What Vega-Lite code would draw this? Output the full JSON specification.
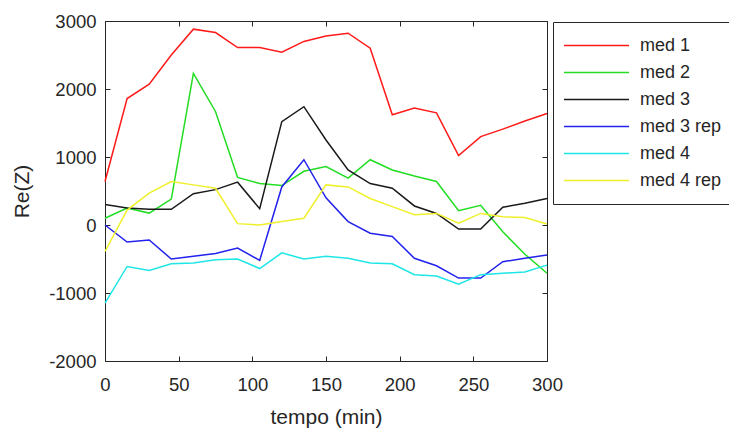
{
  "$schema": "https://vega.github.io/schema/vega-lite/v6.json",
  "width": 442,
  "height": 340,
  "autosize": {"type": "none"},
  "padding": {"left": 105, "top": 21, "right": 182, "bottom": 68},
  "background": "white",
  "config": {
    "font": "Liberation Sans",
    "view": {"stroke": "#262626", "strokeWidth": 1},
    "axis": {"grid": false, "domain": false, "tickColor": "#262626", "tickSize": -5, "labelFontSize": 18.5, "labelColor": "#262626", "titleFontSize": 21, "titleFontWeight": "normal", "titleColor": "#262626", "labelFont": "Liberation Sans", "titleFont": "Liberation Sans"}
  },
  "data": {"values": [
    {"t":0,"s":"med 1","v":640},{"t":15,"s":"med 1","v":1860},{"t":30,"s":"med 1","v":2070},{"t":45,"s":"med 1","v":2500},{"t":60,"s":"med 1","v":2880},{"t":75,"s":"med 1","v":2830},{"t":90,"s":"med 1","v":2610},{"t":105,"s":"med 1","v":2610},{"t":120,"s":"med 1","v":2540},{"t":135,"s":"med 1","v":2700},{"t":150,"s":"med 1","v":2780},{"t":165,"s":"med 1","v":2820},{"t":180,"s":"med 1","v":2600},{"t":195,"s":"med 1","v":1620},{"t":210,"s":"med 1","v":1720},{"t":225,"s":"med 1","v":1650},{"t":240,"s":"med 1","v":1020},{"t":255,"s":"med 1","v":1300},{"t":270,"s":"med 1","v":1410},{"t":285,"s":"med 1","v":1530},{"t":300,"s":"med 1","v":1640},
    {"t":0,"s":"med 2","v":100},{"t":15,"s":"med 2","v":250},{"t":30,"s":"med 2","v":175},{"t":45,"s":"med 2","v":380},{"t":60,"s":"med 2","v":2230},{"t":75,"s":"med 2","v":1670},{"t":90,"s":"med 2","v":700},{"t":105,"s":"med 2","v":610},{"t":120,"s":"med 2","v":580},{"t":135,"s":"med 2","v":790},{"t":150,"s":"med 2","v":860},{"t":165,"s":"med 2","v":690},{"t":180,"s":"med 2","v":960},{"t":195,"s":"med 2","v":810},{"t":210,"s":"med 2","v":720},{"t":225,"s":"med 2","v":640},{"t":240,"s":"med 2","v":210},{"t":255,"s":"med 2","v":290},{"t":270,"s":"med 2","v":-100},{"t":285,"s":"med 2","v":-430},{"t":300,"s":"med 2","v":-710},
    {"t":0,"s":"med 3","v":300},{"t":15,"s":"med 3","v":250},{"t":30,"s":"med 3","v":230},{"t":45,"s":"med 3","v":230},{"t":60,"s":"med 3","v":460},{"t":75,"s":"med 3","v":520},{"t":90,"s":"med 3","v":630},{"t":105,"s":"med 3","v":240},{"t":120,"s":"med 3","v":1520},{"t":135,"s":"med 3","v":1740},{"t":150,"s":"med 3","v":1250},{"t":165,"s":"med 3","v":810},{"t":180,"s":"med 3","v":610},{"t":195,"s":"med 3","v":540},{"t":210,"s":"med 3","v":280},{"t":225,"s":"med 3","v":170},{"t":240,"s":"med 3","v":-60},{"t":255,"s":"med 3","v":-60},{"t":270,"s":"med 3","v":260},{"t":285,"s":"med 3","v":320},{"t":300,"s":"med 3","v":390},
    {"t":0,"s":"med 3 rep","v":0},{"t":15,"s":"med 3 rep","v":-250},{"t":30,"s":"med 3 rep","v":-220},{"t":45,"s":"med 3 rep","v":-500},{"t":60,"s":"med 3 rep","v":-460},{"t":75,"s":"med 3 rep","v":-420},{"t":90,"s":"med 3 rep","v":-340},{"t":105,"s":"med 3 rep","v":-520},{"t":120,"s":"med 3 rep","v":560},{"t":135,"s":"med 3 rep","v":960},{"t":150,"s":"med 3 rep","v":400},{"t":165,"s":"med 3 rep","v":50},{"t":180,"s":"med 3 rep","v":-120},{"t":195,"s":"med 3 rep","v":-170},{"t":210,"s":"med 3 rep","v":-490},{"t":225,"s":"med 3 rep","v":-600},{"t":240,"s":"med 3 rep","v":-780},{"t":255,"s":"med 3 rep","v":-780},{"t":270,"s":"med 3 rep","v":-540},{"t":285,"s":"med 3 rep","v":-490},{"t":300,"s":"med 3 rep","v":-440},
    {"t":0,"s":"med 4","v":-1150},{"t":15,"s":"med 4","v":-610},{"t":30,"s":"med 4","v":-670},{"t":45,"s":"med 4","v":-570},{"t":60,"s":"med 4","v":-560},{"t":75,"s":"med 4","v":-510},{"t":90,"s":"med 4","v":-500},{"t":105,"s":"med 4","v":-640},{"t":120,"s":"med 4","v":-410},{"t":135,"s":"med 4","v":-500},{"t":150,"s":"med 4","v":-460},{"t":165,"s":"med 4","v":-490},{"t":180,"s":"med 4","v":-560},{"t":195,"s":"med 4","v":-570},{"t":210,"s":"med 4","v":-730},{"t":225,"s":"med 4","v":-750},{"t":240,"s":"med 4","v":-870},{"t":255,"s":"med 4","v":-730},{"t":270,"s":"med 4","v":-710},{"t":285,"s":"med 4","v":-690},{"t":300,"s":"med 4","v":-590},
    {"t":0,"s":"med 4 rep","v":-390},{"t":15,"s":"med 4 rep","v":220},{"t":30,"s":"med 4 rep","v":470},{"t":45,"s":"med 4 rep","v":640},{"t":60,"s":"med 4 rep","v":590},{"t":75,"s":"med 4 rep","v":540},{"t":90,"s":"med 4 rep","v":20},{"t":105,"s":"med 4 rep","v":0},{"t":120,"s":"med 4 rep","v":50},{"t":135,"s":"med 4 rep","v":100},{"t":150,"s":"med 4 rep","v":590},{"t":165,"s":"med 4 rep","v":560},{"t":180,"s":"med 4 rep","v":390},{"t":195,"s":"med 4 rep","v":270},{"t":210,"s":"med 4 rep","v":150},{"t":225,"s":"med 4 rep","v":170},{"t":240,"s":"med 4 rep","v":25},{"t":255,"s":"med 4 rep","v":170},{"t":270,"s":"med 4 rep","v":120},{"t":285,"s":"med 4 rep","v":110},{"t":300,"s":"med 4 rep","v":15}
  ]},
  "layer": [
    {
      "mark": {"type": "line", "strokeWidth": 1.5},
      "encoding": {
        "x": {"field": "t", "type": "quantitative", "scale": {"domain": [0, 300], "nice": false, "zero": false},
              "axis": {"orient": "bottom", "title": "tempo (min)", "values": [0, 50, 100, 150, 200, 250, 300], "labelPadding": 19, "titlePadding": 13, "labelFlush": false}},
        "y": {"field": "v", "type": "quantitative", "scale": {"domain": [-2000, 3000], "nice": false},
              "axis": {"orient": "left", "title": "Re(Z)", "values": [-2000, -1000, 0, 1000, 2000, 3000], "labelPadding": 14, "titlePadding": 16, "labelExpr": "toString(datum.value)"}},
        "color": {"field": "s", "type": "nominal",
                  "scale": {"domain": ["med 1", "med 2", "med 3", "med 3 rep", "med 4", "med 4 rep"], "range": ["#ff1a1a", "#22dd22", "#1a1a1a", "#2222ee", "#1ee6e6", "#f0f02a"]},
                  "legend": {"title": null, "orient": "none", "legendX": 448, "legendY": 1, "symbolType": "stroke", "symbolSize": 4225, "symbolStrokeWidth": 1.5, "clipHeight": 27, "rowPadding": 0, "labelFontSize": 18, "labelOffset": 10, "padding": 10, "strokeColor": "#262626", "fillColor": "white", "labelColor": "#262626", "labelFont": "Liberation Sans", "labelLimit": 0}}
      }
    },
    {
      "mark": {"type": "point", "opacity": 0},
      "encoding": {
        "x": {"field": "t", "type": "quantitative", "scale": {"domain": [0, 300], "nice": false, "zero": false},
              "axis": {"orient": "top", "title": null, "labels": false, "values": [0, 50, 100, 150, 200, 250, 300]}},
        "y": {"field": "v", "type": "quantitative", "scale": {"domain": [-2000, 3000], "nice": false},
              "axis": {"orient": "right", "title": null, "labels": false, "values": [-2000, -1000, 0, 1000, 2000, 3000]}}
      }
    }
  ],
  "resolve": {"axis": {"x": "independent", "y": "independent"}}
}
